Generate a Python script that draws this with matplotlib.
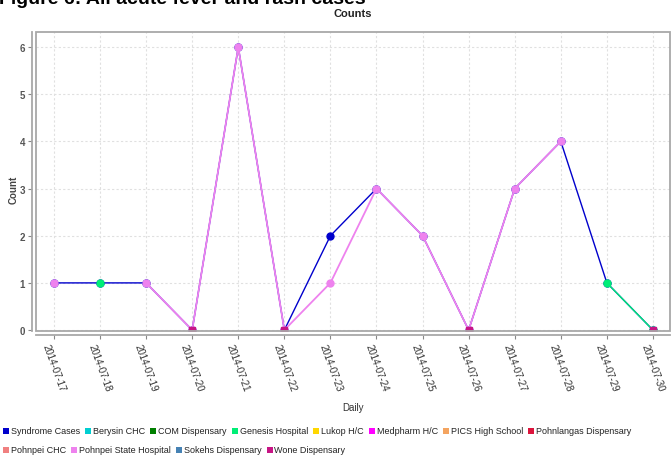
import numpy as np
import matplotlib
matplotlib.use("Agg")
import matplotlib.pyplot as plt
from matplotlib.patches import Rectangle

plt.rcParams['font.family'] = ['Liberation Sans', 'DejaVu Sans']

nan = np.nan
dates = ["2014-07-17", "2014-07-18", "2014-07-19", "2014-07-20", "2014-07-21",
         "2014-07-22", "2014-07-23", "2014-07-24", "2014-07-25", "2014-07-26",
         "2014-07-27", "2014-07-28", "2014-07-29", "2014-07-30"]

series_names = ["Syndrome Cases", "Berysin CHC", "COM Dispensary", "Genesis Hospital",
                "Lukop H/C", "Medpharm H/C", "PICS High School", "Pohnlangas Dispensary",
                "Pohnpei CHC", "Pohnpei State Hospital", "Sokehs Dispensary", "Wone Dispensary"]
series_colors = ["#0000CC", "#00CED1", "#007F00", "#00EE76", "#FFD700", "#FF00FF",
                 "#F4A460", "#DC143C", "#F08080", "#EE82EE", "#4682B4", "#C71585"]

syndrome_cases = [1, 1, 1, 0, 6, 0, 2, 3, 2, 0, 3, 4, 1, 0]
genesis_hospital = [nan, 1, nan, nan, nan, nan, nan, nan, nan, nan, nan, nan, 1, 0]
pohnpei_state_hospital = [1, nan, 1, 0, 6, 0, 1, 3, 2, 0, 3, 4, nan, nan]
wone_dispensary = [nan, nan, nan, 0, nan, 0, nan, nan, nan, 0, nan, nan, nan, 0]

series_values = {
    "Syndrome Cases": syndrome_cases,
    "Genesis Hospital": genesis_hospital,
    "Pohnpei State Hospital": pohnpei_state_hospital,
    "Wone Dispensary": wone_dispensary,
}

W, H = 671, 460
fig = plt.figure(figsize=(W / 100, H / 100), dpi=100)
L, R, T, B = 36, 670, 33, 332
ax = fig.add_axes([L / W, (H - B) / H, (R - L) / W, (B - T) / H])

gray = '#A8A8A8'
for s in ['left', 'bottom']:
    ax.spines[s].set_position(('outward', 3))
    ax.spines[s].set_color(gray)
    ax.spines[s].set_linewidth(1.3)
for s in ['top', 'right']:
    ax.spines[s].set_visible(False)
ax.add_patch(Rectangle((0, 0), 1, 1, transform=ax.transAxes, fill=False,
                       ec=gray, lw=1.3, clip_on=False, zorder=5))

x = np.arange(len(dates))
for name, col in zip(series_names, series_colors):
    if name not in series_values:
        continue
    vals = np.array(series_values[name], dtype=float)
    marker = 's' if name == "Wone Dispensary" else 'o'
    lw = 1.3 if name == "Pohnpei State Hospital" else 1.0
    ax.plot(x, vals, color=col, lw=lw, marker=marker, ms=5, mec=col, mfc=col,
            zorder=3, clip_on=True)

ax.set_xlim(-0.39, len(dates) - 1 + 0.37)
ax.set_ylim(-0.02, 6.32)
ax.set_yticks(range(0, 7))
ax.set_xticks(x)
ax.set_xticklabels(dates, rotation=-70, ha='center', va='top', fontsize=7,
                   color='#333333')
ax.set_yticklabels([str(v) for v in range(0, 7)], fontsize=7, fontweight='bold',
                   color='#555555')
ax.tick_params(axis='both', length=3, width=0.8, color='#888888', pad=2)

ax.grid(True, color='#E0E0E0', lw=0.8, ls=(0, (2, 2)))
ax.set_axisbelow(True)

fig.text(353 / W, 1 - 14 / H, "Counts", ha='center', va='center', fontsize=8,
         fontweight='bold', color='#222222')
fig.text(-0.002, 1 - 4 / H, "Figure 6: All acute fever and rash cases", ha='left',
         va='baseline', fontsize=14, fontweight='bold', color='black')
fig.text(14 / W, 1 - 190 / H, "Count", ha='center', va='center', rotation=90,
         fontsize=7, fontweight='bold', color='#444444')
fig.text(353 / W, 1 - 408 / H, "Daily", ha='center', va='center', fontsize=7,
         color='#333333')

# legend, laid out in two rows
fig.canvas.draw()
renderer = fig.canvas.get_renderer()
rows = [series_names[:8], series_names[8:]]
row_y = [432, 451]
sq = 6
for names, yy in zip(rows, row_y):
    cx = 3
    for name in names:
        col = series_colors[series_names.index(name)]
        fig.patches.append(Rectangle((cx / W, 1 - (yy + sq / 2) / H), sq / W, sq / H,
                                     transform=fig.transFigure, fc=col, ec='none'))
        t = fig.text((cx + sq + 2) / W, 1 - yy / H, name, ha='left', va='center',
                     fontsize=6.45, color='#222222')
        bb = t.get_window_extent(renderer)
        cx = bb.x1 + 5

fig.savefig("out.png", dpi=100)
